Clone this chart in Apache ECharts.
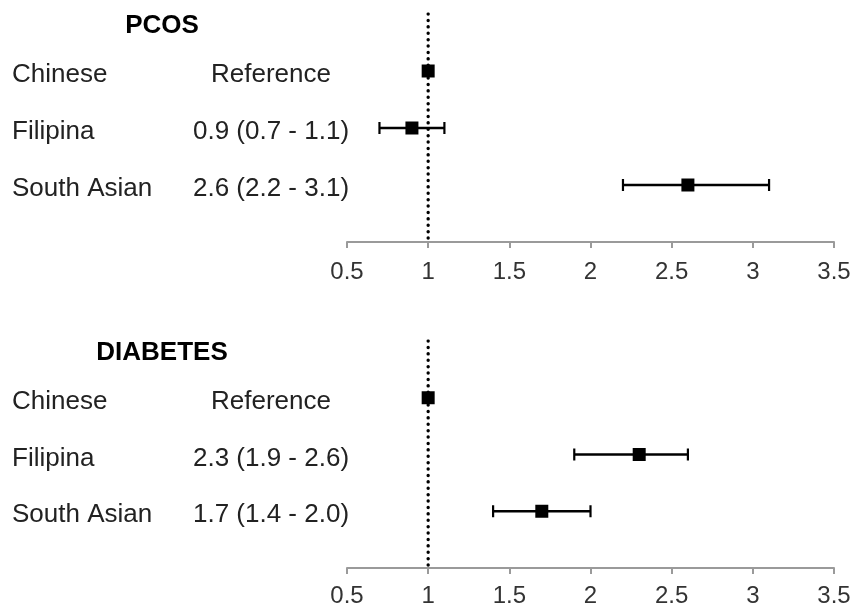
<!DOCTYPE html>
<html>
<head>
<meta charset="utf-8">
<script src="https://cdn.jsdelivr.net/npm/echarts@6/dist/echarts.min.js"></script>
<style>
html,body{margin:0;padding:0;background:#fff;}
#chart{width:856px;height:609px;}
</style>
</head>
<body>
<div id="chart"></div>
<script>
var categories = ['Chinese', 'Filipina', 'South Asian'];
var pcosOR = [1, 0.9, 2.6];
var pcosLow = [null, 0.7, 2.2];
var pcosHigh = [null, 1.1, 3.1];
var pcosText = ['Reference', '0.9 (0.7 - 1.1)', '2.6 (2.2 - 3.1)'];
var diabetesOR = [1, 2.3, 1.7];
var diabetesLow = [null, 1.9, 1.4];
var diabetesHigh = [null, 2.6, 2.0];
var diabetesText = ['Reference', '2.3 (1.9 - 2.6)', '1.7 (1.4 - 2.0)'];
var xMin = 0.5, xMax = 3.5, xStep = 0.5;
var refValue = 1;
var panelTitles = ['PCOS', 'DIABETES'];

var FONT = '"Liberation Sans", Arial, sans-serif';

function yAxisFor(texts, idx) {
  return {
    type: 'value', gridIndex: idx, min: 0, max: 4, interval: 1, inverse: true,
    axisLine: {show: false}, axisTick: {show: false}, splitLine: {show: false},
    axisLabel: {
      show: true, align: 'left', margin: 335, padding: [8, 0, 0, 0],
      formatter: function (v) {
        var i = Math.round(v) - 1;
        if (i < 0 || i >= categories.length || Math.abs(v - Math.round(v)) > 1e-6) return '';
        return '{n|' + categories[i] + '}{v|' + texts[i] + '}';
      },
      rich: {
        n: {width: 180, align: 'left', fontSize: 26, fontFamily: FONT, color: '#222'},
        v: {width: 158, align: 'center', fontSize: 26, fontFamily: FONT, color: '#222'}
      }
    }
  };
}

function xAxisFor(idx, margin) {
  return {
    type: 'value', gridIndex: idx, position: 'bottom', min: xMin, max: xMax, interval: xStep,
    axisLine: {show: true, onZero: false, lineStyle: {color: '#9a9a9a', width: 2}},
    axisTick: {show: true, length: 6, lineStyle: {color: '#9a9a9a', width: 2}},
    splitLine: {show: false},
    axisLabel: {fontSize: 24, fontFamily: FONT, color: '#333', margin: margin}
  };
}

function errorData(low, high) {
  var d = [];
  for (var i = 0; i < categories.length; i++) {
    if (low[i] != null) d.push([low[i], high[i], i + 1]);
  }
  return d;
}
function pointData(or) {
  return or.map(function (v, i) { return [v, i + 1]; });
}

function renderErr(params, api) {
  var y = api.value(2);
  var p1 = api.coord([api.value(0), y]);
  var p2 = api.coord([api.value(1), y]);
  var h = 6;
  var st = {stroke: '#000', lineWidth: 2.6};
  return {
    type: 'group',
    children: [
      {type: 'line', shape: {x1: p1[0], y1: p1[1], x2: p2[0], y2: p2[1]}, style: st},
      {type: 'line', shape: {x1: p1[0], y1: p1[1] - h, x2: p1[0], y2: p1[1] + h}, style: {stroke: '#000', lineWidth: 2.2}},
      {type: 'line', shape: {x1: p2[0], y1: p2[1] - h, x2: p2[0], y2: p2[1] + h}, style: {stroke: '#000', lineWidth: 2.2}}
    ]
  };
}

function panelSeries(idx, or, low, high) {
  return [
    {
      type: 'line', xAxisIndex: idx, yAxisIndex: idx, data: [[refValue, 0], [refValue, 4]],
      symbol: 'none', silent: true, z: 1,
      lineStyle: {color: '#000', width: 3.4, type: [0.1, 6.3], cap: 'round'}
    },
    {
      type: 'custom', xAxisIndex: idx, yAxisIndex: idx, data: errorData(low, high),
      renderItem: renderErr, z: 2, silent: true
    },
    {
      type: 'scatter', xAxisIndex: idx, yAxisIndex: idx, data: pointData(or),
      symbol: 'rect', symbolSize: 13, itemStyle: {color: '#000', opacity: 1}, z: 3, silent: true
    }
  ];
}

var chart = echarts.init(document.getElementById('chart'));
chart.setOption({
  backgroundColor: '#fff',
  animation: false,
  title: [
    {text: panelTitles[0], left: 157, top: 8, textAlign: 'center',
     textStyle: {fontSize: 26, fontWeight: 'bold', fontFamily: FONT, color: '#000'}},
    {text: panelTitles[1], left: 157, top: 335, textAlign: 'center',
     textStyle: {fontSize: 26, fontWeight: 'bold', fontFamily: FONT, color: '#000'}}
  ],
  grid: [
    {left: 347, right: 22, top: 14, height: 228},
    {left: 347, right: 22, top: 341, height: 227}
  ],
  xAxis: [xAxisFor(0, 18), xAxisFor(1, 16)],
  yAxis: [yAxisFor(pcosText, 0), yAxisFor(diabetesText, 1)],
  series: [].concat(
    panelSeries(0, pcosOR, pcosLow, pcosHigh),
    panelSeries(1, diabetesOR, diabetesLow, diabetesHigh)
  )
});
</script>
</body>
</html>
